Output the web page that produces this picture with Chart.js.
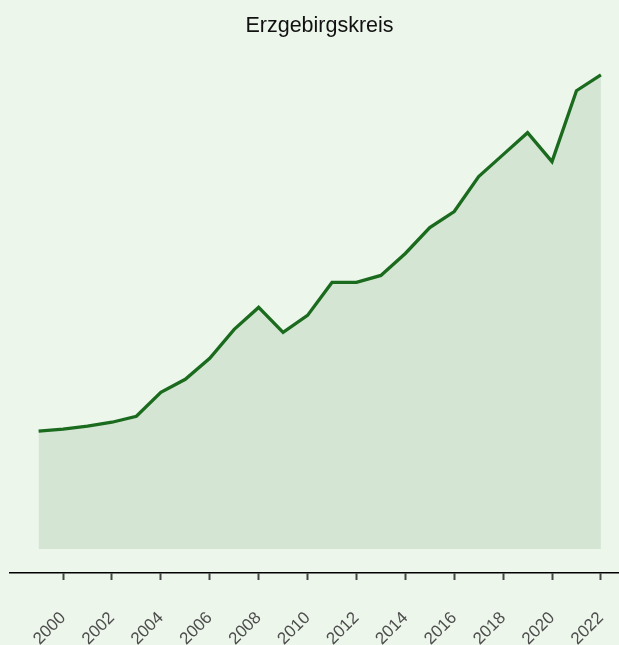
<!DOCTYPE html>
<html>
<head>
<meta charset="utf-8">
<script src="https://cdn.jsdelivr.net/npm/chart.js@4.4.4/dist/chart.umd.min.js"></script>
<style>
  html, body { margin: 0; padding: 0; background: #edf6eb; }
  #wrap { width: 619px; height: 645px; }
</style>
</head>
<body>
<div id="wrap"><canvas id="chart" width="619" height="645"></canvas></div>
<script>
// values (relative units, 0 = bottom of the shaded area)
const years = [1999, 2000, 2001, 2002, 2003, 2004, 2005, 2006, 2007, 2008, 2009, 2010,
               2011, 2012, 2013, 2014, 2015, 2016, 2017, 2018, 2019, 2020, 2021, 2022];
const values = [118, 120, 123, 127, 133, 157, 170, 191, 220, 242, 217, 234,
                267, 267, 274, 296, 322, 338, 373, 395, 417, 388, 459, 475];
const tickYears = [2000, 2002, 2004, 2006, 2008, 2010, 2012, 2014, 2016, 2018, 2020, 2022];
const title = 'Erzgebirgskreis';

const points = years.map((y, i) => ({ x: y, y: values[i] }));

const data = {
  datasets: [{
    data: points,
    borderColor: '#1b6b1f',
    borderWidth: 3.3,
    backgroundColor: '#d4e5d3',
    fill: 'origin',
    pointRadius: 0,
    tension: 0,
  }],
};

// the title sits a little right of the canvas centre in the original
const shiftTitle = {
  id: 'shiftTitle',
  afterLayout(chart) {
    if (chart.titleBlock) {
      chart.titleBlock.left += 5;
      chart.titleBlock.right += 5;
    }
  },
};

const options = {
  responsive: false,
  animation: false,
  devicePixelRatio: 1,
  layout: { padding: { left: 10, right: 0, top: 0, bottom: 0 } },
  plugins: {
    legend: { display: false },
    tooltip: { enabled: false },
    title: {
      display: true,
      text: title,
      color: '#111111',
      font: { family: 'Liberation Sans, Arial, sans-serif', size: 21.5, weight: 'normal' },
      padding: { top: 13, bottom: 12 },
    },
  },
  scales: {
    x: {
      type: 'linear',
      min: 1997.83,
      max: 2022.74,
      afterBuildTicks: scale => { scale.ticks = tickYears.map(v => ({ value: v })); },
      afterFit: scale => {
        scale.height = 72;
        scale.paddingLeft = 0;
        scale.paddingRight = 0;
      },
      grid: {
        drawOnChartArea: false,
        tickLength: 7,
        tickColor: '#444444',
        tickWidth: 2,
      },
      border: { display: true, color: '#000000', width: 1.5 },
      ticks: {
        autoSkip: false,
        minRotation: 45,
        maxRotation: 45,
        padding: 28,
        color: '#4d4d4d',
        font: { family: 'Liberation Sans, Arial, sans-serif', size: 17 },
        callback: value => String(value),
      },
    },
    y: {
      display: false,
      min: -24,
      max: 499,
    },
  },
};

new Chart(document.getElementById('chart'), { type: 'line', data, options, plugins: [shiftTitle] });
</script>
</body>
</html>
